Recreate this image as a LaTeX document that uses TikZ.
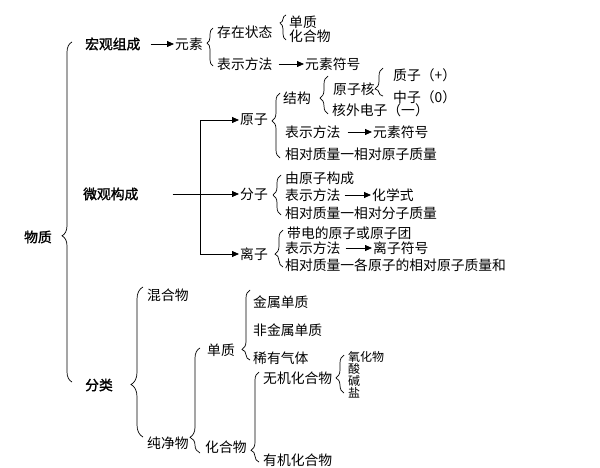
\documentclass[tikz,border=0pt]{standalone}
\usepackage{fontspec}
\setmainfont{Noto Sans CJK SC}
\newfontfamily\bcjk{Noto Sans CJK SC}[FakeBold=1.5]
\usetikzlibrary{arrows.meta,decorations.pathreplacing}
\begin{document}
\begin{tikzpicture}[x=1pt,y=-1pt,
  t/.style={anchor=west,inner sep=0pt,font=\fontsize{13.8}{14}\selectfont},
  tb/.style={anchor=west,inner sep=0pt,font=\bcjk\fontsize{13.8}{14}\selectfont},
  ts/.style={anchor=west,inner sep=0pt,font=\fontsize{12}{12}\selectfont},
  ln/.style={line width=0.8pt},
  arr/.style={line width=0.8pt,-{Triangle[length=7pt,width=6pt]},shorten >=1pt},
  br/.style 2 args={line width=0.7pt,decorate,decoration={brace,amplitude=#1,aspect=#2}},
]
\useasboundingbox[fill=white] (0,0) rectangle (600,468);
% root
\node[tb] (wz) at (24,237) {物质};
\draw[br={10pt}{0.43}] (72,382) -- (72,42);
% macro
\node[tb] (hg) at (85,44) {宏观组成};
\node[t] (ys) at (175,44) {元素};
\draw[arr] ([xshift=10pt]hg.east) -- (hg.east -| ys.west);
\draw[br={6pt}{0.6}] (213,66) -- (213,28);
\node[t] (cz) at (217,32) {存在状态};
\draw[br={6pt}{0.68}] (286,40) -- (286,15);
\node[t] (dz) at (289,22) {单质};
\node[t] (hhw) at (289,36) {化合物};
\node[t] (bs0) at (217,64) {表示方法};
\node[t] (fh0) at (305,64) {元素符号};
\draw[arr] ([xshift=6pt]bs0.east) -- (bs0.east -| fh0.west);
% micro
\node[tb] (wg) at (83,194) {微观构成};
\node[t] (yz) at (240,120) {原子};
\node[t] (fz) at (240,194) {分子};
\node[t] (lz) at (240,254) {离子};
\coordinate (jn) at (200,194);
\draw[arr] ([xshift=34pt]wg.east) -- (fz.west);
\draw[arr] (jn) |- (yz.west);
\draw[arr] (jn) |- (lz.west);
% atom
\draw[br={8pt}{0.57}] (280,158) -- (280,93);
\node[t] (jg) at (283,98) {结构};
\draw[br={8pt}{0.42}] (328,114) -- (328,76);
\node[t] (yzh) at (333,89) {原子核};
\draw[br={8pt}{0.25}] (383,96) -- (383,68);
\node[t] (zz) at (393,75) {质子（+）};
\node[t] (zhz) at (393,97) {中子（0）};
\node[t] (hw) at (332,110) {核外电子（一）};
\node[t] (bs1) at (285,132) {表示方法};
\node[t] (fh1) at (373,132) {元素符号};
\draw[arr] ([xshift=7pt]bs1.east) -- (bs1.east -| fh1.west);
\node[t] (xd1) at (285,154) {相对质量一相对原子质量};
% molecule
\draw[br={8pt}{0.5}] (281,215) -- (281,175);
\node[t] (yc) at (285,178) {由原子构成};
\node[t] (bs2) at (285,195) {表示方法};
\node[t] (hxs) at (372,195) {化学式};
\draw[arr] ([xshift=4pt]bs2.east) -- (bs2.east -| hxs.west);
\node[t] (xd2) at (285,213) {相对质量一相对分子质量};
% ion
\draw[br={8pt}{0.35}] (283,267) -- (283,230);
\node[t] (dd) at (287,233) {带电的原子或原子团};
\node[t] (bs3) at (285,248) {表示方法};
\node[t] (fh3) at (373,248) {离子符号};
\draw[arr] ([xshift=5pt]bs3.east) -- (bs3.east -| fh3.west);
\node[t] (xd3) at (285,265) {相对质量一各原子的相对原子质量和};
% classification
\node[tb] (fl) at (85,385) {分类};
\draw[br={12pt}{0.35}] (143,437) -- (143,287);
\node[t] (hh) at (147,295) {混合物};
\node[t] (cj) at (147,443) {纯净物};
\draw[br={10pt}{0.15}] (200,453) -- (200,348);
\node[t] (dz2) at (207,350) {单质};
\draw[br={8pt}{0.15}] (250,360) -- (250,290);
\node[t] (js) at (253,302) {金属单质};
\node[t] (fjs) at (253,330) {非金属单质};
\node[t] (xy) at (253,358) {稀有气体};
\node[t] (hhw2) at (205,447) {化合物};
\draw[br={8pt}{0.13}] (259,462) -- (259,372);
\node[t] (wj) at (263,378) {无机化合物};
\node[t] (yj) at (263,460) {有机化合物};
\draw[br={8pt}{0.4}] (344,393) -- (344,355);
\node[ts] (yh) at (348,357) {氧化物};
\node[ts] (sn) at (348,369) {酸};
\node[ts] (jn2) at (348,381) {碱};
\node[ts] (yn) at (348,393) {盐};
\end{tikzpicture}
\end{document}
